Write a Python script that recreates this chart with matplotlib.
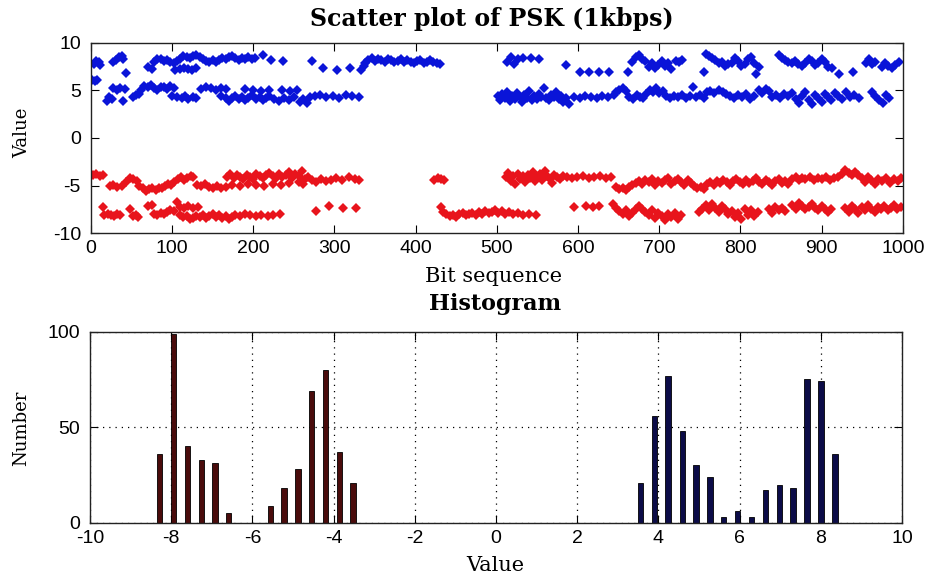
import numpy as np
import matplotlib
matplotlib.use("Agg")
import matplotlib.pyplot as plt

plt.rcParams['axes.unicode_minus'] = False

# ---- scatter data (bit index, received value) ----
blue_upper = [
    (2, 6.1), (5, 6.0), (8, 6.1), (4, 7.8), (7, 8.1), (10, 8.0), (12, 7.7),
    (27, 8.0), (31, 8.2), (35, 8.5), (38, 8.6), (40, 8.3), (43, 6.8),
    (71, 7.4), (75, 7.2), (78, 8.0), (82, 8.3), (86, 8.3), (90, 8.1), (94, 8.2),
    (98, 8.0), (102, 7.9), (106, 8.1), (104, 7.1), (110, 7.2), (115, 7.3),
    (120, 7.2), (125, 7.1), (130, 7.3), (110, 8.3), (114, 8.6), (118, 8.5),
    (122, 8.4), (126, 8.6), (130, 8.7), (134, 8.5), (138, 8.3), (142, 8.1),
    (146, 8.0), (150, 8.2), (154, 8.0), (158, 8.2), (162, 8.4), (166, 8.3),
    (170, 8.5), (174, 8.6), (178, 8.4), (182, 8.2), (186, 8.4), (190, 8.3),
    (194, 8.5), (198, 8.3), (202, 8.4), (212, 8.7), (222, 8.2), (237, 8.1),
    (272, 8.1), (286, 7.3), (303, 7.1), (319, 7.3), (333, 7.1), (336, 7.6),
    (338, 7.9), (342, 8.2), (346, 8.4), (350, 8.1), (354, 8.3), (358, 8.2),
    (362, 8.0), (366, 8.3), (370, 8.2), (374, 8.0), (378, 8.1), (382, 8.3),
    (386, 8.0), (390, 8.2), (394, 8.0), (398, 7.9), (402, 8.1), (406, 8.2),
    (410, 7.9), (414, 8.0), (418, 8.2), (422, 8.0), (426, 7.9), (430, 7.8),
    (513, 8.0), (517, 8.5), (521, 7.8), (526, 8.3), (532, 8.4), (542, 8.4),
    (552, 8.3), (585, 7.7), (602, 6.9), (614, 6.9), (626, 6.9), (638, 6.9),
    (661, 6.9), (667, 8.0), (671, 8.5), (675, 8.7), (679, 8.3), (683, 8.1),
    (687, 7.5), (691, 7.9), (695, 7.3), (699, 7.7), (703, 8.1), (707, 7.6),
    (711, 7.9), (715, 7.2), (720, 8.1), (724, 8.0), (728, 8.2), (755, 6.9),
    (757, 8.8), (761, 8.6), (765, 8.4), (769, 8.2), (773, 7.9), (777, 8.0),
    (781, 7.6), (785, 7.8), (789, 7.9), (793, 8.4), (797, 8.1), (801, 7.6),
    (805, 7.8), (809, 8.3), (813, 8.5), (817, 7.9), (819, 6.7), (823, 7.5),
    (847, 8.7), (851, 8.4), (855, 8.2), (859, 8.0), (863, 7.9), (867, 8.1),
    (871, 7.8), (876, 7.6), (880, 7.9), (884, 8.3), (888, 8.1), (892, 7.7),
    (896, 7.9), (900, 8.3), (904, 8.0), (908, 7.4), (913, 7.3), (921, 6.7),
    (938, 6.9), (954, 7.9), (958, 8.3), (962, 7.8), (966, 8.0), (974, 7.4),
    (978, 7.9), (982, 7.6), (986, 7.3), (990, 7.7), (995, 8.0),
]

blue_lower = [
    (20, 3.9), (23, 4.3), (26, 4.1), (28, 5.2), (32, 5.0), (36, 5.2), (40, 3.9),
    (42, 5.1), (52, 4.3), (56, 4.5), (60, 4.6), (62, 5.0), (66, 5.5), (70, 5.3),
    (74, 5.6), (78, 5.2), (82, 5.0), (86, 5.3), (90, 5.4), (94, 5.1), (98, 5.5),
    (102, 5.2), (100, 4.4), (106, 4.3), (112, 4.2), (116, 4.4), (120, 4.1),
    (126, 4.3), (130, 4.2), (136, 5.1), (142, 5.3), (148, 5.2), (154, 5.0),
    (160, 5.2), (166, 5.1), (160, 4.4), (166, 4.2), (170, 3.9), (174, 4.2),
    (178, 4.4), (182, 4.1), (186, 4.3), (190, 4.0), (194, 4.2), (198, 4.5),
    (204, 4.1), (208, 4.3), (212, 4.0), (216, 4.2), (220, 4.4), (226, 4.1),
    (232, 3.9), (238, 4.2), (244, 4.0), (250, 4.3), (254, 5.0), (258, 3.8),
    (262, 4.1), (266, 3.7), (270, 4.3), (276, 4.4), (282, 4.5), (290, 4.3),
    (298, 4.4), (306, 4.2), (314, 4.5), (322, 4.4), (330, 4.3), (190, 5.1),
    (200, 5.0), (210, 4.9), (220, 5.0), (235, 5.0), (245, 4.9),
    (501, 4.4), (504, 4.0), (507, 4.6), (510, 4.2), (513, 4.8), (516, 3.9),
    (519, 4.4), (522, 4.1), (525, 4.7), (528, 4.3), (531, 3.8), (534, 4.5),
    (537, 4.2), (540, 4.9), (543, 4.0), (546, 4.4), (549, 4.1), (552, 4.6),
    (555, 4.3), (558, 5.2), (561, 4.2), (564, 4.0), (567, 4.5), (570, 4.3),
    (573, 4.8), (576, 4.1), (579, 4.4), (582, 3.8), (585, 4.2), (589, 3.6),
    (595, 4.3), (602, 4.2), (609, 4.4), (616, 4.3), (623, 4.2), (630, 4.4),
    (637, 4.3), (644, 4.5), (647, 4.8), (651, 5.0), (655, 5.2), (659, 4.9),
    (663, 4.3), (668, 4.1), (672, 4.5), (676, 4.3), (680, 4.2), (684, 4.6),
    (688, 5.0), (692, 4.8), (696, 5.2), (700, 4.7), (704, 4.9), (708, 4.4),
    (713, 4.2), (718, 4.4), (723, 4.3), (728, 4.5), (733, 4.2), (738, 4.4),
    (741, 5.3), (745, 4.3), (750, 4.5), (755, 4.2), (759, 4.8), (763, 4.9),
    (768, 4.7), (773, 5.0), (778, 4.8), (782, 4.6), (787, 4.4), (792, 4.2),
    (797, 4.5), (802, 4.3), (807, 4.6), (812, 4.1), (817, 4.4), (823, 5.0),
    (827, 4.7), (831, 5.1), (835, 4.9), (839, 4.3), (844, 4.5), (849, 4.2),
    (854, 4.6), (859, 4.4), (864, 4.7), (868, 4.1), (872, 3.7), (876, 4.4),
    (880, 4.8), (884, 4.0), (888, 3.6), (892, 4.5), (896, 4.2), (900, 3.8),
    (904, 4.6), (908, 4.3), (912, 4.0), (916, 4.7), (920, 4.4), (925, 4.1),
    (930, 4.8), (935, 4.3), (940, 4.5), (946, 4.2), (962, 4.8), (966, 4.4),
    (970, 4.0), (975, 3.7), (979, 4.5), (983, 4.2),
]

red_upper = [
    (3, -3.9), (7, -3.8), (11, -4.0), (15, -3.9), (24, -5.0), (28, -4.9),
    (33, -5.1), (38, -5.0), (44, -4.6), (48, -4.2), (52, -4.3), (57, -4.5),
    (60, -5.0), (64, -5.3), (68, -5.6), (72, -5.4), (76, -5.2), (80, -5.5),
    (84, -5.3), (88, -5.2), (92, -5.0), (95, -4.8), (99, -4.9), (103, -4.6),
    (107, -4.3), (111, -4.1), (115, -4.4), (119, -4.2), (123, -4.0), (126, -4.1),
    (131, -4.9), (136, -5.0), (141, -4.8), (146, -5.1), (151, -5.2), (156, -5.0),
    (161, -5.3), (166, -5.1), (168, -4.1), (172, -3.8), (176, -4.2), (180, -3.9),
    (184, -4.1), (188, -4.3), (192, -3.9), (196, -4.1), (200, -4.3), (204, -3.8),
    (208, -4.0), (212, -4.2), (216, -3.9), (220, -3.7), (224, -4.0), (228, -4.2),
    (232, -3.8), (236, -4.1), (240, -3.9), (244, -3.6), (248, -4.2), (252, -3.8),
    (256, -4.0), (260, -3.5), (264, -4.3), (268, -4.1), (272, -4.4), (278, -4.6),
    (284, -4.3), (290, -4.5), (296, -4.4), (302, -4.2), (310, -4.4), (318, -4.1),
    (325, -4.3), (330, -4.4), (174, -4.9), (184, -5.0), (194, -4.8), (204, -4.9),
    (214, -5.0), (224, -4.8), (234, -4.9), (244, -4.7), (256, -4.6), (262, -4.8),
    (423, -4.4), (427, -4.2), (431, -4.3), (435, -4.4),
    (511, -4.1), (514, -3.7), (517, -4.5), (520, -4.0), (523, -4.8), (526, -3.8),
    (529, -4.3), (532, -4.0), (535, -4.6), (538, -3.9), (541, -4.2), (544, -3.6),
    (547, -4.5), (550, -4.1), (553, -3.8), (556, -4.4), (559, -3.5), (562, -4.0),
    (565, -4.3), (568, -4.7), (571, -3.9), (574, -4.1), (578, -4.3), (582, -4.0),
    (586, -4.1), (592, -4.2), (599, -4.1), (606, -4.0), (613, -4.2), (620, -4.1),
    (627, -4.0), (634, -4.2), (641, -4.1), (647, -5.1), (651, -5.4), (655, -5.2),
    (659, -5.5), (663, -5.1), (667, -4.9), (671, -4.7), (675, -4.5), (679, -4.8),
    (683, -4.4), (687, -4.6), (691, -4.3), (695, -4.9), (699, -4.5), (703, -4.7),
    (707, -4.4), (711, -4.2), (715, -4.8), (719, -4.5), (723, -4.3), (727, -4.6),
    (731, -4.9), (735, -4.4), (739, -4.7), (743, -5.0), (747, -5.3), (751, -5.1),
    (755, -5.4), (759, -4.8), (763, -4.6), (767, -4.9), (771, -4.5), (775, -4.7),
    (779, -4.4), (783, -4.6), (787, -4.9), (791, -4.5), (795, -4.3), (799, -4.6),
    (803, -4.8), (807, -4.4), (811, -4.7), (815, -4.5), (819, -4.2), (823, -4.6),
    (827, -4.8), (831, -4.4), (835, -4.6), (839, -4.9), (843, -4.5), (847, -4.3),
    (851, -4.7), (855, -4.5), (859, -4.8), (864, -4.3), (868, -4.1), (872, -4.4),
    (876, -4.2), (880, -4.3), (885, -4.1), (890, -4.4), (895, -4.2), (900, -4.3),
    (905, -4.1), (910, -4.4), (915, -4.2), (920, -4.1), (925, -3.8), (929, -3.4),
    (933, -3.7), (937, -3.9), (941, -3.6), (945, -3.9), (949, -4.2), (953, -4.6),
    (957, -4.1), (961, -4.4), (965, -4.8), (969, -4.3), (974, -4.5), (979, -4.2),
    (984, -4.7), (989, -4.3), (994, -4.5), (998, -4.2),
]

red_lower = [
    (15, -7.2), (17, -8.1), (21, -8.0), (25, -8.1), (29, -8.2), (33, -8.0),
    (36, -8.1), (48, -7.4), (52, -8.2), (56, -8.1), (58, -8.3), (71, -7.1),
    (75, -7.0), (78, -8.0), (82, -8.1), (86, -7.9), (90, -8.0), (94, -7.8),
    (98, -7.6), (102, -7.7), (106, -6.7), (110, -7.2), (115, -7.3), (120, -7.1),
    (126, -7.3), (132, -7.2), (110, -8.1), (114, -8.3), (118, -8.2), (122, -8.5),
    (126, -8.4), (130, -8.2), (134, -8.3), (138, -8.1), (142, -8.4), (146, -8.2),
    (150, -8.0), (154, -8.3), (158, -8.1), (162, -8.4), (166, -8.2), (170, -8.5),
    (174, -8.3), (178, -8.1), (184, -8.2), (190, -8.0), (196, -8.1), (203, -8.2),
    (210, -8.1), (218, -8.2), (225, -8.1), (233, -8.0), (278, -7.7), (294, -7.1),
    (311, -7.3), (327, -7.3),
    (431, -7.2), (434, -7.8), (438, -8.0), (442, -8.2), (446, -8.1), (450, -8.3),
    (454, -8.0), (458, -7.9), (462, -8.1), (466, -8.0), (470, -7.9), (474, -8.1),
    (478, -7.8), (482, -8.0), (486, -7.7), (490, -7.9), (494, -7.8), (498, -7.6),
    (502, -7.9), (506, -7.7), (510, -8.0), (515, -7.8), (520, -8.0), (526, -7.9),
    (532, -8.1), (540, -8.0), (548, -8.1),
    (595, -7.2), (610, -7.1), (618, -7.2), (626, -7.1), (643, -6.9), (647, -7.3),
    (651, -7.7), (655, -8.0), (659, -7.6), (663, -8.2), (667, -7.9), (671, -7.4),
    (675, -7.1), (679, -7.5), (683, -7.8), (687, -8.1), (691, -7.6), (695, -8.4),
    (699, -7.9), (703, -8.2), (707, -8.6), (711, -8.0), (715, -8.3), (719, -7.9),
    (723, -8.5), (727, -8.1), (749, -7.8), (753, -7.4), (757, -7.0), (761, -7.6),
    (765, -6.9), (769, -7.3), (773, -7.8), (777, -7.1), (781, -7.5), (785, -8.0),
    (789, -7.7), (793, -8.3), (797, -7.9), (801, -8.5), (805, -7.4), (809, -8.1),
    (813, -7.6), (817, -8.2), (821, -7.8), (835, -7.5), (839, -7.9), (843, -7.2),
    (847, -7.6), (851, -7.3), (855, -7.7), (864, -7.0), (868, -7.4), (872, -6.8),
    (876, -7.1), (880, -7.5), (884, -7.2), (888, -6.9), (892, -7.3), (896, -7.6),
    (900, -7.1), (904, -7.4), (908, -7.8), (912, -7.5), (929, -7.3), (933, -7.8),
    (937, -7.1), (941, -7.5), (945, -7.9), (949, -7.2), (953, -7.6), (957, -7.0),
    (961, -7.4), (965, -7.8), (969, -7.2), (973, -7.5), (977, -7.1), (981, -7.6),
    (985, -7.3), (989, -7.0), (993, -7.4), (997, -7.2),
]

# ---- histogram data (bin centre, count) ----
neg_centers = [-8.28, -7.94, -7.60, -7.26, -6.92, -6.58, -5.56, -5.22, -4.88,
               -4.54, -4.20, -3.86, -3.52]
neg_counts = [36, 99, 40, 33, 31, 5, 9, 18, 28, 69, 80, 37, 21]
pos_centers = [3.56, 3.90, 4.24, 4.59, 4.93, 5.27, 5.61, 5.95, 6.30, 6.64,
               6.98, 7.32, 7.66, 8.01, 8.35]
pos_counts = [21, 56, 77, 48, 30, 24, 3, 6, 3, 17, 20, 18, 75, 74, 36]

W, H = 930, 577
SANS = 'Liberation Sans'
SERIF = 'DejaVu Serif'


def fx(px):
    return px / W


def fy(py):
    return 1 - py / H


def style_axes(ax):
    ax.tick_params(direction='in', top=True, right=True, length=6,
                   width=0.8, labelsize=14)
    ax.tick_params(axis='x', pad=5)
    ax.tick_params(axis='y', pad=7)
    for lbl in ax.get_xticklabels() + ax.get_yticklabels():
        lbl.set_fontfamily(SANS)
    for sp in ax.spines.values():
        sp.set_linewidth(1.0)
        sp.set_color('#222222')


fig = plt.figure(figsize=(9.3, 5.77), dpi=100)

# ====================== SCATTER ======================
ax1 = fig.add_axes([0.0975, 0.5957, 0.8734, 0.3303])
bu = np.array(blue_upper + blue_lower)
rd = np.array(red_upper + red_lower)
ax1.plot(bu[:, 0], bu[:, 1], 'D', color='#0a14d8', markersize=5.2,
         markeredgewidth=0)
ax1.plot(rd[:, 0], rd[:, 1], 'D', color='#e8141c', markersize=5.2,
         markeredgewidth=0)
ax1.set_xlim(0, 1000)
ax1.set_ylim(-10, 10)
ax1.set_xticks(np.arange(0, 1001, 100))
ax1.set_yticks([-10, -5, 0, 5, 10])
style_axes(ax1)

fig.text(fx(492), fy(26), 'Scatter plot of PSK (1kbps)', family=SERIF,
         weight='bold', size=17, ha='center', va='baseline')
fig.text(fx(494), fy(282), 'Bit sequence', family=SERIF, size=15,
         ha='center', va='baseline')
fig.text(fx(22), fy(133), 'Value', family=SERIF, size=13, rotation=90,
         ha='center', va='center')

# ====================== HISTOGRAM ======================
ax2 = fig.add_axes([0.0968, 0.0941, 0.873, 0.331])
ax2.set_axisbelow(True)
ax2.grid(True, linestyle=(0, (1, 4)), color='black', linewidth=0.9)
ax2.bar(neg_centers, neg_counts, width=0.13, color='#4a0c0c',
        edgecolor='black', linewidth=0.6)
ax2.bar(pos_centers, pos_counts, width=0.13, color='#0c0c48',
        edgecolor='black', linewidth=0.6)
ax2.set_xlim(-10, 10)
ax2.set_ylim(0, 100)
ax2.set_xticks(np.arange(-10, 11, 2))
ax2.set_yticks([0, 50, 100])
style_axes(ax2)

fig.text(fx(495), fy(310), 'Histogram', family=SERIF, weight='bold',
         size=16, ha='center', va='baseline')
fig.text(fx(495), fy(571), 'Value', family=SERIF, size=15,
         ha='center', va='baseline')
fig.text(fx(21), fy(428), 'Number', family=SERIF, size=13, rotation=90,
         ha='center', va='center')

plt.savefig('out.png', dpi=100)
plt.close()
